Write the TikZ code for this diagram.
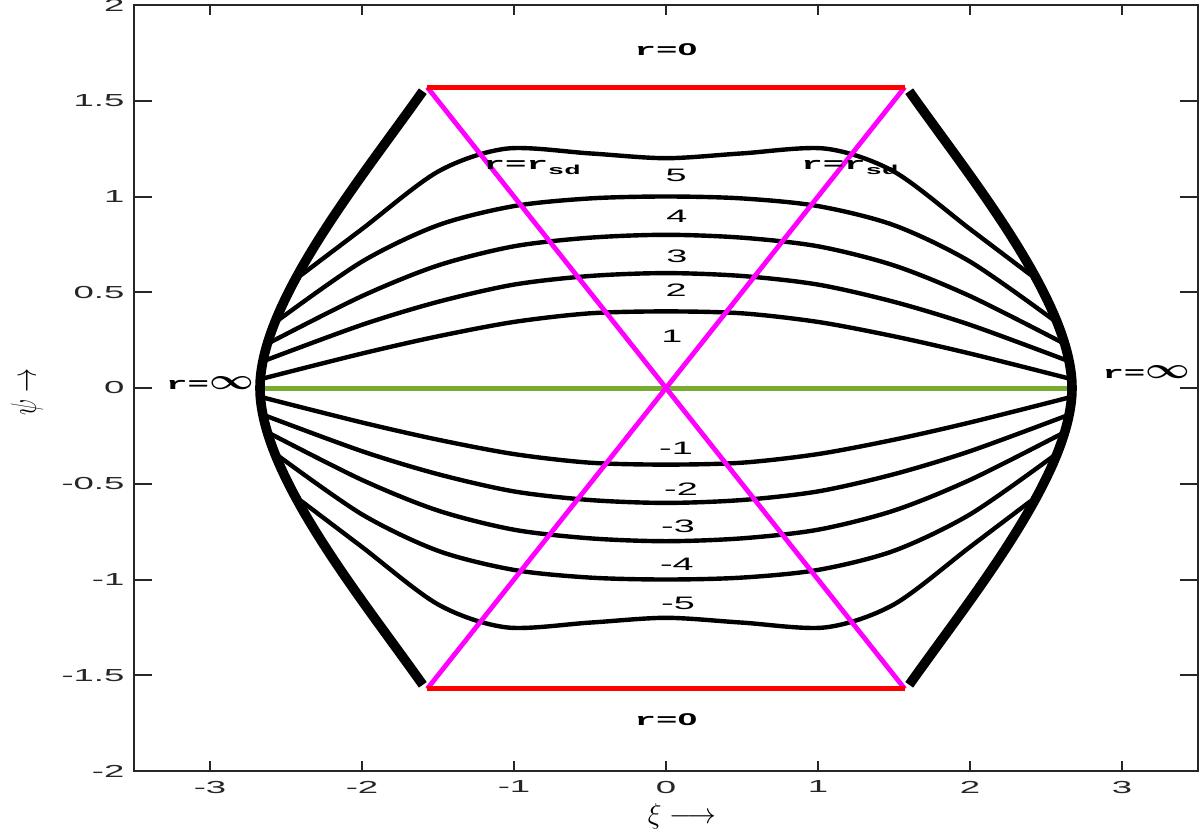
\documentclass[tikz,border=0pt]{standalone}
\usepackage{fontspec}
\usepackage{graphicx}
\setmainfont{Liberation Sans}
\newfontfamily\tickfont[FakeStretch=2.1]{Liberation Sans}
\newfontfamily\courfam[FakeStretch=2.1]{Liberation Mono}
\definecolor{axcol}{rgb}{0.15,0.15,0.15}
\definecolor{mgreen}{rgb}{0.466,0.674,0.188}
\definecolor{mmag}{rgb}{1,0,1}
\definecolor{mred}{rgb}{1,0,0}
\newcommand\myinf{\scalebox{1.35}[1]{\fontsize{15}{15}\selectfont\boldmath$\infty$}}
\newcommand\myzero{{\tickfont\bfseries 0}}
\newcommand\mysub[1]{\raisebox{-2.5pt}{\fontsize{6.5}{6.5}\selectfont #1}}
\tikzset{
  axisline/.style={draw=axcol, line width=1pt},
  curve/.style={line width=2.2pt, black, line join=round},
  bnd/.style={line width=4.8pt, black},
  magline/.style={line width=2.4pt, mmag},
  redline/.style={line width=2.5pt, mred},
  grnline/.style={line width=2.5pt, mgreen},
  ticklab/.style={font=\tickfont\fontsize{8.7}{10}\selectfont, text=axcol, inner sep=0pt},
  curvelab/.style={font=\tickfont\fontsize{9}{10}\selectfont, inner sep=0pt},
  courlab/.style={font=\courfam\bfseries\fontsize{8.5}{10}\selectfont, inner sep=0pt},
}
\begin{document}
\begin{tikzpicture}[x=76pt,y=95.75pt]
\useasboundingbox (-4.3816,-2.2977) rectangle (3.5132,2.0261);
% named corner coordinates
\coordinate (TL) at (-1.5708,1.5708);
\coordinate (TR) at (1.5708,1.5708);
\coordinate (BL) at (-1.5708,-1.5708);
\coordinate (BR) at (1.5708,-1.5708);
\coordinate (GL) at (-2.65,0);
\coordinate (GR) at (2.65,0);
% green line
\draw[grnline] (GL) -- (GR);
% contour curves
\foreach \s in {1,-1}{
\begin{scope}[yscale=\s]
\draw[curve] plot[smooth] coordinates {(-2.65,0.05) (-2.0,0.18) (-1.5,0.27) (-1.0,0.345) (-0.5,0.39) (0,0.40) (0.5,0.39) (1.0,0.345) (1.5,0.27) (2.0,0.18) (2.65,0.05)};
\draw[curve] plot[smooth] coordinates {(-2.63,0.146) (-2.0,0.33) (-1.5,0.45) (-1.0,0.54) (-0.5,0.585) (0,0.60) (0.5,0.585) (1.0,0.54) (1.5,0.45) (2.0,0.33) (2.63,0.146)};
\draw[curve] plot[smooth] coordinates {(-2.60,0.24) (-2.0,0.48) (-1.5,0.64) (-1.0,0.74) (-0.5,0.785) (0,0.80) (0.5,0.785) (1.0,0.74) (1.5,0.64) (2.0,0.48) (2.60,0.24)};
\draw[curve] plot[smooth] coordinates {(-2.55,0.355) (-2.0,0.66) (-1.5,0.85) (-1.0,0.95) (-0.5,0.99) (0,1.0) (0.5,0.99) (1.0,0.95) (1.5,0.85) (2.0,0.66) (2.55,0.355)};
\draw[curve] plot[smooth] coordinates {(-2.40,0.59) (-2.0,0.83) (-1.5,1.13) (-1.05,1.25) (-0.5,1.225) (0,1.20) (0.5,1.225) (1.05,1.25) (1.5,1.13) (2.0,0.83) (2.40,0.59)};
\end{scope}}
% magenta and red lines
\draw[magline] (TL) -- (BR);
\draw[magline] (TR) -- (BL);
\draw[redline] (TL) -- (TR);
\draw[redline] (BL) -- (BR);
% thick boundary
\foreach \s in {1,-1}{
\begin{scope}[xscale=\s]
\draw[bnd] (-1.60,1.55) .. controls (-2.0,1.10) and (-2.671,0.45) .. (-2.671,0)
                        .. controls (-2.671,-0.45) and (-2.0,-1.10) .. (-1.60,-1.55);
\end{scope}}
% axes box
\draw[axisline] (-3.5,-2) rectangle (3.5,2);
\foreach \x [count=\i] in {-3,-2,-1,0,1,2,3}{
  \draw[axisline] (\x,-2) -- ++(0,0.0522);
  \draw[axisline] (\x,2) -- ++(0,-0.0522);
  \node[ticklab, anchor=north] (xt\i) at (\x,-2.05) {\x};
}
\foreach \y/\l [count=\i] in {-2/-2,-1.5/-1.5,-1/-1,-0.5/-0.5,0/0,0.5/0.5,1/1,1.5/1.5,2/2}{
  \draw[axisline] (-3.5,\y) -- ++(0.118,0);
  \draw[axisline] (3.5,\y) -- ++(-0.118,0);
  \node[ticklab, anchor=east] (yt\i) at (-3.56,\y) {\l};
}
% axis labels
\node[anchor=base, inner sep=0pt, font=\fontsize{13.5}{13.5}\selectfont] (xlab) at (0.105,-2.272) {$\xi\longrightarrow$};
\node[rotate=90, inner sep=0pt, font=\fontsize{13}{13}\selectfont] (ylab) at (-4.204,-0.02) {\scalebox{1}[1.5]{$\psi\rightarrow$}};
% region labels
\node[courlab] (r0top) at (0,1.765) {r=\myzero};
\node[courlab] (r0bot) at (0,-1.734) {r=\myzero};
\node[courlab] (rinfl) at (-3.0,0.026) {r=\myinf};
\node[courlab] (rinfr) at (3.16,0.084) {r=\myinf};
\node[courlab] (rsdl) at (-0.88,1.149) {r=r\mysub{sd}};
\node[courlab] (rsdr) at (1.21,1.149) {r=r\mysub{sd}};
% curve labels
\node[curvelab] (c1) at (0.039,0.272) {1};
\node[curvelab] (c2) at (0.066,0.512) {2};
\node[curvelab] (c3) at (0.072,0.689) {3};
\node[curvelab] (c4) at (0.072,0.898) {4};
\node[curvelab] (c5) at (0.066,1.112) {5};
\node[curvelab] (cm1) at (0.066,-0.313) {-1};
\node[curvelab] (cm2) at (0.099,-0.527) {-2};
\node[curvelab] (cm3) at (0.079,-0.72) {-3};
\node[curvelab] (cm4) at (0.072,-0.919) {-4};
\node[curvelab] (cm5) at (0.079,-1.123) {-5};
\end{tikzpicture}
\end{document}
